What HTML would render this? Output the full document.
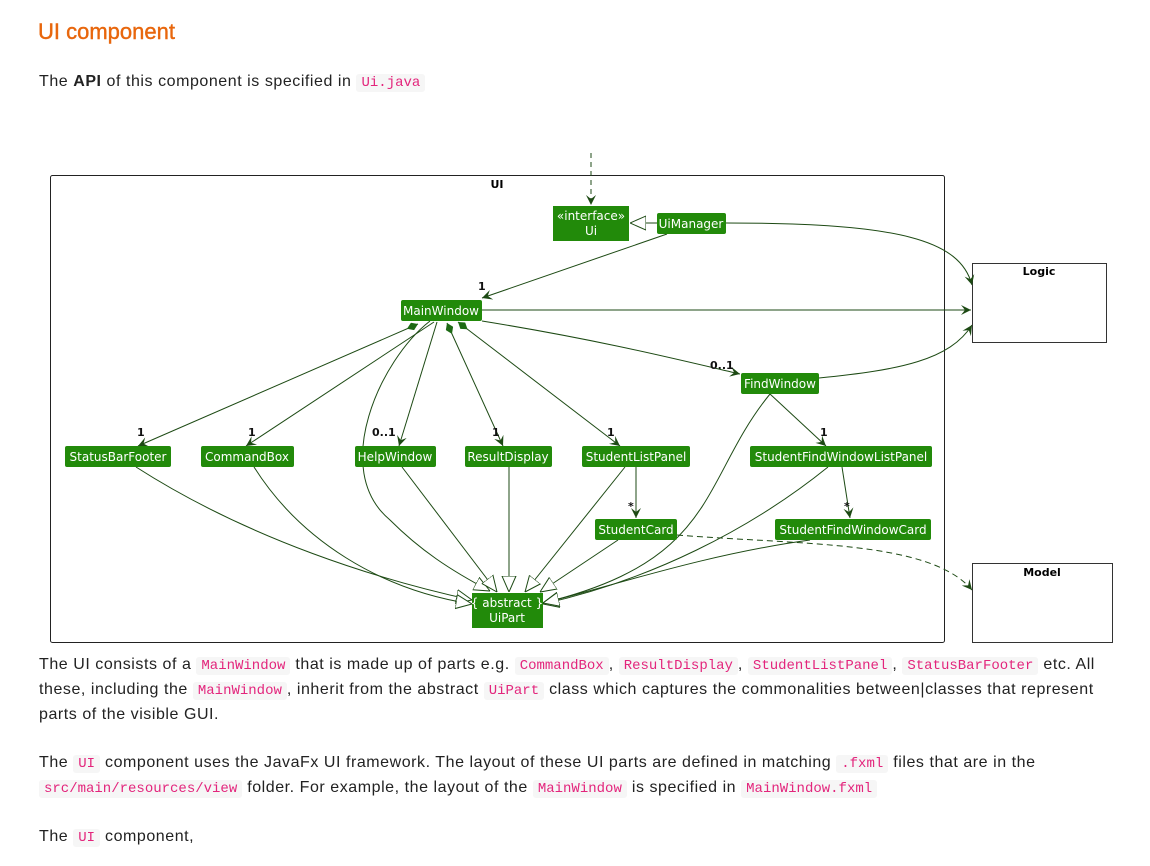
<!DOCTYPE html>
<html><head><meta charset="utf-8"><style>
body{margin:0;background:#fff;width:1150px;height:866px;overflow:hidden;position:relative;font-family:"Liberation Sans",sans-serif;color:#222}
.t{position:absolute;left:39px;white-space:nowrap;font-size:16px;line-height:20px;letter-spacing:0.55px}
code{font-family:"Liberation Mono",monospace;font-size:14px;color:#e3257c;background:#f6f6f6;padding:1px 5px;border-radius:3px;letter-spacing:0}
h2{position:absolute;left:38px;top:19px;margin:0;font-size:22px;font-weight:normal;color:#e8660c;-webkit-text-stroke:0.4px #e8660c}
svg{position:absolute;left:0;top:0}
</style></head><body>
<h2>UI component</h2>
<div class="t" style="top:72px">The <b>API</b> of this component is specified in <code>Ui.java</code></div>

<svg width="1150" height="866" font-family="DejaVu Sans, sans-serif">
<defs>
<marker id="a" viewBox="0 0 10 10" refX="10" refY="5" markerWidth="10" markerHeight="10" orient="auto" markerUnits="userSpaceOnUse"><path d="M0,0 L10,5 L0,10 L4,5 z" fill="#1d4a14"/></marker>
<marker id="tri" viewBox="0 0 16 16" refX="16" refY="8" markerWidth="16" markerHeight="16" orient="auto" markerUnits="userSpaceOnUse"><path d="M0,1 L16,8 L0,15 z" fill="#fff" stroke="#1d4a14"/></marker>
<marker id="d" viewBox="0 0 12 8" refX="0" refY="4" markerWidth="12" markerHeight="8" orient="auto" markerUnits="userSpaceOnUse"><path d="M0,4 L6,0 L12,4 L6,8 z" fill="#1d6a14"/></marker>
</defs>
<rect x="50.5" y="175.5" width="894" height="467" rx="2" fill="none" stroke="#222"/>
<text x="497" y="188" font-size="11" font-weight="bold" text-anchor="middle">UI</text>
<rect x="972.5" y="263.5" width="134" height="79" fill="none" stroke="#333"/>
<text x="1039" y="275" font-size="11" font-weight="bold" text-anchor="middle">Logic</text>
<rect x="972.5" y="563.5" width="140" height="79" fill="none" stroke="#333"/>
<text x="1042" y="576" font-size="11" font-weight="bold" text-anchor="middle">Model</text>

<g fill="none" stroke="#1d4a14" stroke-width="1">
<path d="M591,153 L591,205" stroke-dasharray="5,4" marker-end="url(#a)"/>
<path d="M657,223 L630,223" marker-end="url(#tri)"/>
<path d="M726,223 C900,223 960,240 972,285" marker-end="url(#a)"/>
<path d="M667,234 L482,298" marker-end="url(#a)"/>
<path d="M482,310 L971,310" marker-end="url(#a)"/>
<path d="M482,321 C600,340 680,360 740,374" marker-end="url(#a)"/>
<path d="M819,378 C900,370 950,360 972,325" marker-end="url(#a)"/>
<path d="M418,324 L138,446" marker-start="url(#d)" marker-end="url(#a)"/>
<path d="M434,322 L246,446" marker-end="url(#a)"/>
<path d="M437,322 L399,446" marker-end="url(#a)"/>
<path d="M447,323 L503,446" marker-start="url(#d)" marker-end="url(#a)"/>
<path d="M458,322 L620,446" marker-start="url(#d)" marker-end="url(#a)"/>
<path d="M770,394 L826,446" marker-end="url(#a)"/>
<path d="M636,467 L636,518" marker-end="url(#a)"/>
<path d="M842,467 L850,518" marker-end="url(#a)"/>
<path d="M430,321 C380,360 330,470 390,520 C420,550 450,570 490,591" marker-end="url(#tri)"/>
<path d="M136,467 C250,540 380,580 472,600" marker-end="url(#tri)"/>
<path d="M254,467 C300,540 380,590 472,604" marker-end="url(#tri)"/>
<path d="M402,467 L497,592" marker-end="url(#tri)"/>
<path d="M509,467 L509,592" marker-end="url(#tri)"/>
<path d="M625,467 L525,592" marker-end="url(#tri)"/>
<path d="M618,540 L540,592" marker-end="url(#tri)"/>
<path d="M770,394 C700,480 720,560 543,603" marker-end="url(#tri)"/>
<path d="M828,467 C750,530 650,580 543,604" marker-end="url(#tri)"/>
<path d="M810,540 C700,555 600,590 543,603" marker-end="url(#tri)"/>
<path d="M677,535 C800,545 930,540 972,590" stroke-dasharray="6,4" marker-end="url(#a)"/>
</g>

<g font-size="11" fill="#111" font-weight="bold">
<text x="478" y="290">1</text><text x="710" y="369">0..1</text>
<text x="137" y="436">1</text><text x="248" y="436">1</text><text x="372" y="436">0..1</text>
<text x="492" y="436">1</text><text x="607" y="436">1</text><text x="820" y="436">1</text>
<text x="628" y="510">*</text><text x="844" y="510">*</text>
</g>

<g fill="#228a0a">
<rect x="553" y="206" width="76" height="35"/>
<rect x="657" y="213" width="69" height="21" rx="2"/>
<rect x="401" y="300" width="81" height="21" rx="2"/>
<rect x="741" y="373" width="78" height="21" rx="2"/>
<rect x="65" y="446" width="106" height="21" rx="2"/>
<rect x="201" y="446" width="93" height="21" rx="2"/>
<rect x="355" y="446" width="81" height="21" rx="2"/>
<rect x="465" y="446" width="87" height="21" rx="2"/>
<rect x="582" y="446" width="108" height="21" rx="2"/>
<rect x="750" y="446" width="182" height="21" rx="2"/>
<rect x="595" y="519" width="82" height="21" rx="2"/>
<rect x="775" y="519" width="156" height="21" rx="2"/>
<rect x="472" y="593" width="71" height="35"/>
</g>
<g fill="#fff" font-size="12" text-anchor="middle">
<text x="591" y="220">«interface»</text><text x="591" y="235">Ui</text>
<text x="691" y="228">UiManager</text>
<text x="441" y="315">MainWindow</text>
<text x="780" y="388">FindWindow</text>
<text x="118" y="461">StatusBarFooter</text>
<text x="247" y="461">CommandBox</text>
<text x="395" y="461">HelpWindow</text>
<text x="508" y="461">ResultDisplay</text>
<text x="636" y="461">StudentListPanel</text>
<text x="841" y="461">StudentFindWindowListPanel</text>
<text x="636" y="534">StudentCard</text>
<text x="853" y="534">StudentFindWindowCard</text>
<text x="507" y="607">{ abstract }</text><text x="507" y="622">UiPart</text>
</g>
</svg>

<div class="t" style="top:655px">The UI consists of a <code>MainWindow</code> that is made up of parts e.g. <code>CommandBox</code>, <code>ResultDisplay</code>, <code>StudentListPanel</code>, <code>StatusBarFooter</code> etc. All</div>
<div class="t" style="top:680px">these, including the <code>MainWindow</code>, inherit from the abstract <code>UiPart</code> class which captures the commonalities between|classes that represent</div>
<div class="t" style="top:705px">parts of the visible GUI.</div>
<div class="t" style="top:753px">The <code>UI</code> component uses the JavaFx UI framework. The layout of these UI parts are defined in matching <code>.fxml</code> files that are in the</div>
<div class="t" style="top:778px"><code>src/main/resources/view</code> folder. For example, the layout of the <code>MainWindow</code> is specified in <code>MainWindow.fxml</code></div>
<div class="t" style="top:827px">The <code>UI</code> component,</div>
</body></html>
